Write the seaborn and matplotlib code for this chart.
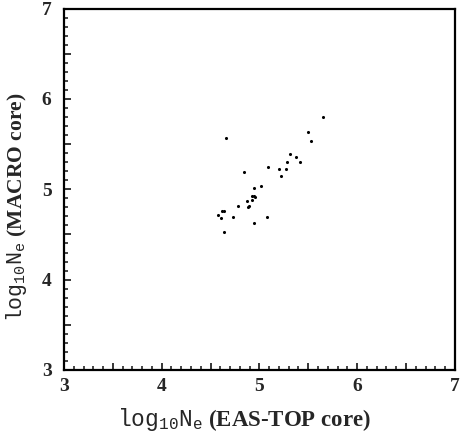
import numpy as np
import matplotlib
matplotlib.use("Agg")
import matplotlib.pyplot as plt
import seaborn as sns
import pandas as pd

# log10 Ne from EAS-TOP core (x) vs MACRO core (y)
eas_top = [5.65, 4.66, 5.50, 5.53, 5.31, 5.37, 5.28, 5.42, 5.09, 5.20,
           5.27, 5.22, 4.84, 5.02, 4.94, 4.92, 4.94, 4.95, 4.92, 4.87,
           4.78, 4.89, 4.88, 4.62, 4.64, 4.58, 4.61, 4.73, 5.08, 4.94,
           4.64]
macro = [5.80, 5.57, 5.63, 5.53, 5.39, 5.36, 5.30, 5.30, 5.25, 5.22,
         5.22, 5.15, 5.19, 5.04, 5.01, 4.93, 4.92, 4.91, 4.88, 4.87,
         4.82, 4.82, 4.80, 4.76, 4.76, 4.71, 4.68, 4.69, 4.69, 4.63,
         4.53]

x_ticks = [3, 4, 5, 6, 7]
y_ticks = [3, 4, 5, 6, 7]

sns.set_style("ticks")
plt.rcParams["font.family"] = ["Liberation Serif", "DejaVu Serif"]
plt.rcParams["mathtext.fontset"] = "custom"
plt.rcParams["mathtext.rm"] = "Liberation Mono:weight=normal"
plt.rcParams["mathtext.it"] = "Liberation Mono:weight=normal"

df = pd.DataFrame({"eas": eas_top, "macro": macro})

fig = plt.figure(figsize=(4.62, 4.36), dpi=100)
ax = fig.add_axes([0.1385, 0.1514, 0.846, 0.829])

sns.scatterplot(data=df, x="eas", y="macro", ax=ax, color="black",
                s=5, linewidth=0, marker="o")

ax.set_xlim(3, 7)
ax.set_ylim(3, 7)

# labelled integers, half-unit ticks and 0.1 minor ticks, all inward
half = np.arange(3, 7.01, 0.5)
ax.set_xticks(half)
ax.set_xticklabels([str(int(v)) if v in x_ticks else "" for v in half],
                   fontweight="bold")
ax.set_yticks(half)
ax.set_yticklabels([str(int(v)) if v in y_ticks else "" for v in half],
                   fontweight="bold")
ax.set_xticks(np.arange(3, 7.01, 0.1), minor=True)
ax.set_yticks(np.arange(3, 7.01, 0.1), minor=True)
ax.tick_params(which="major", direction="in", length=5, width=1.3,
               labelsize=14, top=False, right=False)
ax.tick_params(which="minor", direction="in", length=3, width=1.2,
               top=False, right=False)
ax.tick_params(axis="x", pad=6)
ax.tick_params(axis="y", pad=9)

for sp in ax.spines.values():
    sp.set_visible(True)
    sp.set_linewidth(1.6)
    sp.set_color("black")

ax.set_xlabel(r"$\mathrm{log}_{10}\mathrm{N}_{\mathrm{e}}$ (EAS-TOP core)",
              fontsize=16.5, fontweight="bold")
ax.set_ylabel(r"$\mathrm{log}_{10}\mathrm{N}_{\mathrm{e}}$ (MACRO core)",
              fontsize=15.5, fontweight="bold")
ax.xaxis.set_label_coords(0.46, -0.1)
ax.yaxis.set_label_coords(-0.09, 0.45)

fig.savefig("out.png", dpi=100, facecolor="white")
